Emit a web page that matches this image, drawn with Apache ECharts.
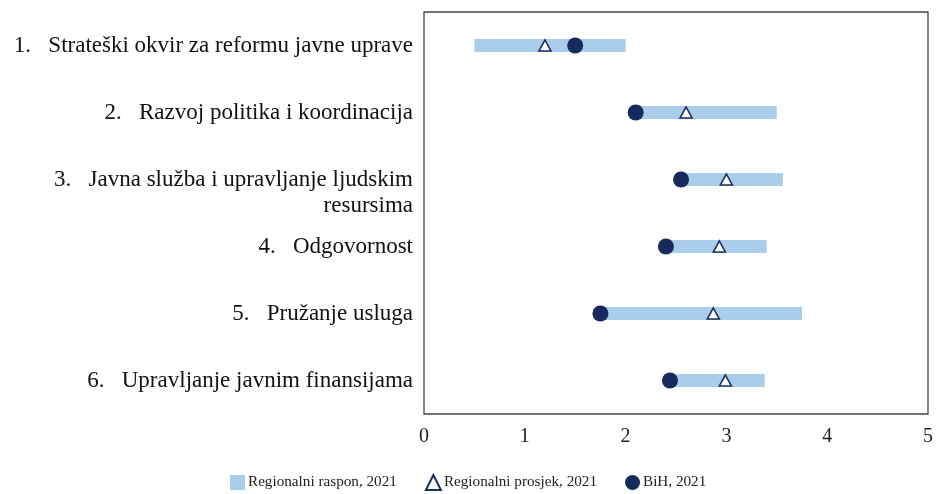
<!DOCTYPE html>
<html>
<head>
<meta charset="utf-8">
<script src="https://cdn.jsdelivr.net/npm/echarts@6/dist/echarts.min.js"></script>
<style>
	html, body { margin: 0; padding: 0; background: #fff; }
	#chart { width: 936px; height: 494px; }
</style>
</head>
<body>
<div id="chart"></div>
<script>
// categories (top to bottom)
var categories = [
	'1.   Strateški okvir za reformu javne uprave',
	'2.   Razvoj politika i koordinacija',
	'3.   Javna služba i upravljanje ljudskim\nresursima',
	'4.   Odgovornost',
	'5.   Pružanje usluga',
	'6.   Upravljanje javnim finansijama'
];
// regional range, min and max
var rangeMin = [0.5, 2.1, 2.55, 2.4, 1.75, 2.44];
var rangeMax = [2.0, 3.5, 3.56, 3.4, 3.75, 3.38];
// regional average
var regionalAvg = [1.2, 2.6, 3.0, 2.93, 2.87, 2.99];
// BiH
var bih = [1.5, 2.1, 2.55, 2.4, 1.75, 2.44];
var xTicks = [0, 1, 2, 3, 4, 5];

var serif = '"Liberation Serif", "DejaVu Serif", serif';

var chart = echarts.init(document.getElementById('chart'));

var option = {
	animation: false,
	backgroundColor: '#fff',
	grid: {
		left: 424,
		right: 4,
		top: 12,
		bottom: 80,
		show: true,
		borderColor: '#444',
		borderWidth: 1.3,
		containLabel: false
	},
	legend: {
		top: 469,
		left: 225,
		padding: 5,
		itemWidth: 15,
		itemHeight: 15,
		itemGap: 28,
		textStyle: { fontFamily: serif, fontSize: 15.2, color: '#222', padding: [0, 0, 0, -2] },
		data: [
			{ name: 'Regionalni raspon, 2021', icon: 'rect' },
			{ name: 'Regionalni prosjek, 2021' },
			{ name: 'BiH, 2021' }
		]
	},
	xAxis: {
		type: 'value',
		min: xTicks[0],
		max: xTicks[xTicks.length - 1],
		interval: 1,
		axisLine: { show: false },
		axisTick: { show: false },
		splitLine: { show: false },
		axisLabel: { fontFamily: serif, fontSize: 20, color: '#222', margin: 13 }
	},
	yAxis: {
		type: 'category',
		inverse: true,
		data: categories,
		axisLine: { show: false },
		axisTick: { show: false },
		axisLabel: {
			fontFamily: serif,
			fontSize: 23,
			color: '#111',
			margin: 11,
			lineHeight: 26,
			align: 'right',
			// keep the first line of a wrapped label on the row
			formatter: function (v) {
				return v.indexOf('\n') >= 0 ? '\n' + v : v;
			}
		}
	},
	series: [{
		name: 'base',
		type: 'bar',
		stack: 'range',
		barWidth: 13,
		silent: true,
		itemStyle: { color: 'transparent' },
		data: rangeMin
	}, {
		name: 'Regionalni raspon, 2021',
		type: 'bar',
		stack: 'range',
		barWidth: 13,
		itemStyle: { color: '#a9cdea' },
		data: rangeMax.map(function (v, i) { return +(v - rangeMin[i]).toFixed(3); })
	}, {
		name: 'Regionalni prosjek, 2021',
		type: 'scatter',
		symbol: 'triangle',
		symbolSize: [12, 11],
		itemStyle: { color: '#fff', borderColor: '#1b2f5e', borderWidth: 1.6, opacity: 1 },
		z: 3,
		data: regionalAvg.map(function (v, i) { return [v, i]; })
	}, {
		name: 'BiH, 2021',
		type: 'scatter',
		symbol: 'circle',
		symbolSize: 16,
		itemStyle: { color: '#172a5e', opacity: 1 },
		z: 4,
		data: bih.map(function (v, i) { return [v, i]; })
	}]
};

chart.setOption(option);
</script>
</body>
</html>
